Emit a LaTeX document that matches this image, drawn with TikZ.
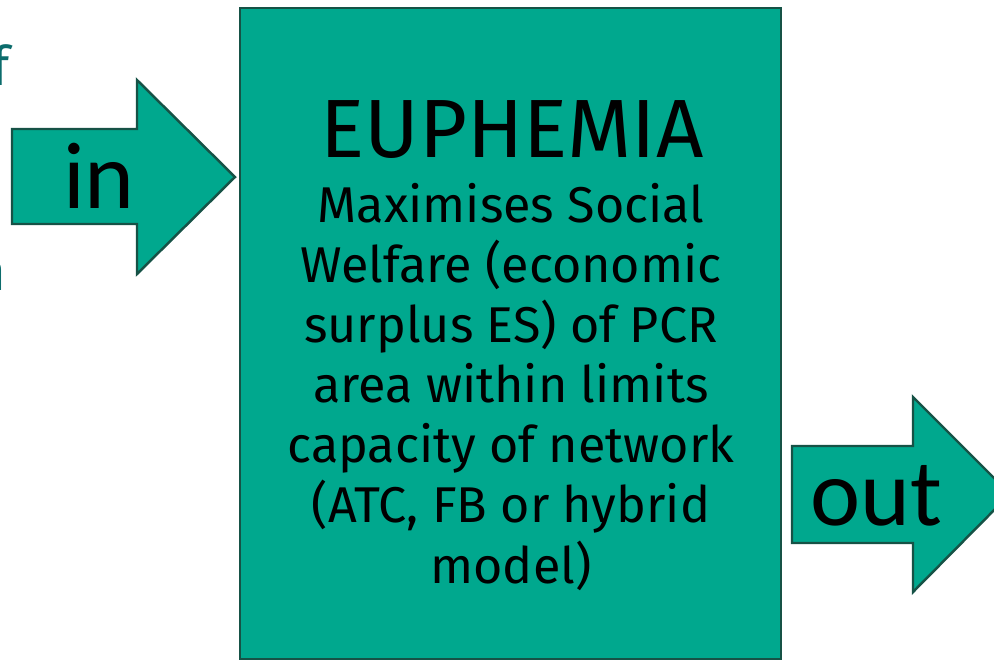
\documentclass[tikz,border=0pt]{standalone}
\usepackage{fontspec}
\setmainfont{Fira Sans}
\newfontfamily\arrowfont{Carlito}
\definecolor{boxfill}{RGB}{0,168,142}
\definecolor{boxline}{RGB}{22,82,70}
\definecolor{cuttext}{RGB}{12,108,108}
\tikzset{
  block/.style={fill=boxfill,draw=boxline,line width=0.7pt},
  arrowlabel/.style={font=\arrowfont\fontsize{27}{30}\selectfont,anchor=base,inner sep=0pt},
  cutlabel/.style={text=cuttext,font=\fontsize{15.5}{18}\selectfont,anchor=base east,inner sep=0pt},
}
\begin{document}
\begin{tikzpicture}[x=0.01cm,y=-0.01cm]
  \useasboundingbox (0,0) rectangle (994,660);
  \clip (0,0) rectangle (994,660);
  \node[block,minimum width=5.41cm,minimum height=6.51cm] (box) at (510.5,333.5) {};
  \draw[block] (12,129) -- (137,129) -- (137,80) -- (235,177) -- (137,274) -- (137,224) -- (12,224) -- cycle;
  \draw[block] (792,446) -- (913,446) -- (913,397) -- (1010,494) -- (913,592) -- (913,543) -- (792,543) -- cycle;
  \node[arrowlabel] (in) at (99,208) {in};
  \node[arrowlabel] (out) at (876,525) {out};
  \node[anchor=base,inner sep=0pt,font=\fontsize{23.5}{28}\selectfont] (title) at (512,157) {EUPHEMIA};
  \node[anchor=base,inner sep=0pt,align=center,font=\fontsize{14.3}{17.07}\selectfont] (body) at (511,583)
    {Maximises Social\\Welfare (economic\\surplus ES) of PCR\\area within limits\\capacity of network\\(ATC, FB or hybrid\\model)};
  \node[cutlabel] (cutf) at (10,85) {f};
  \node[cutlabel] (cutn) at (7,290) {n};
\end{tikzpicture}
\end{document}
